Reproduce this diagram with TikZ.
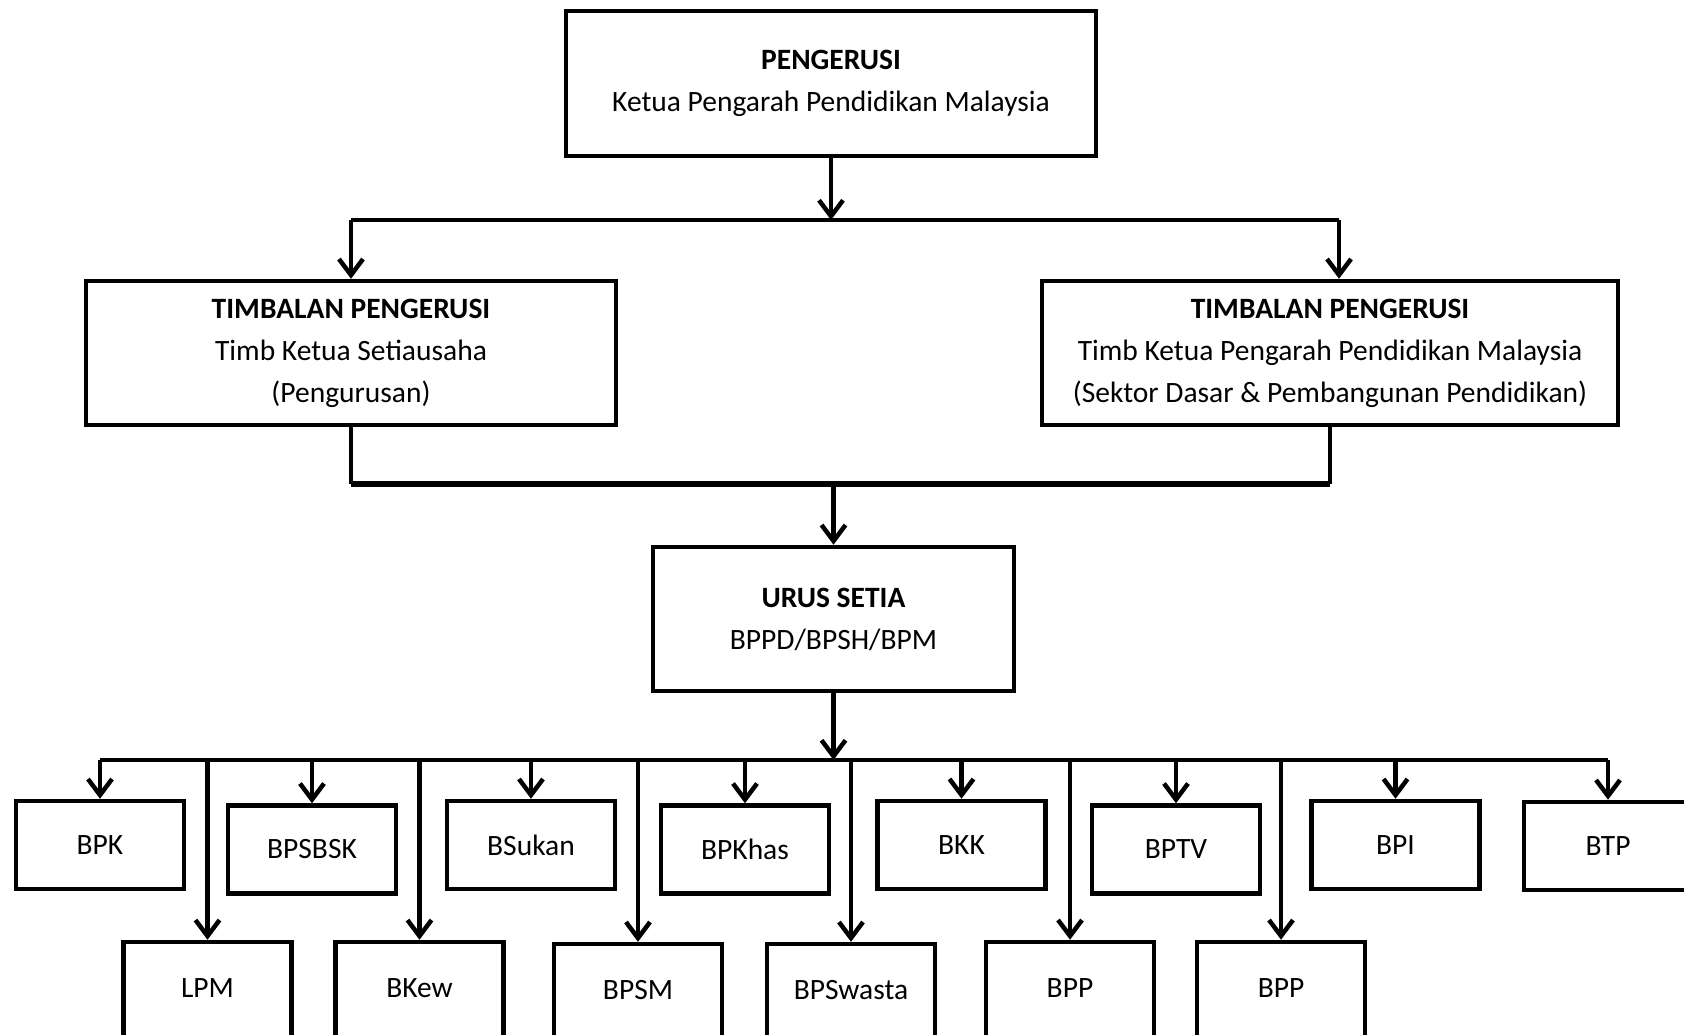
\documentclass[tikz,border=0pt]{standalone}
\usepackage{fontspec}
\setmainfont{Carlito}
\usetikzlibrary{arrows.meta}

\begin{document}
\begin{tikzpicture}[x=1pt,y=-1pt,>={Straight Barb[length=16pt,width=24pt]}]
\tikzstyle{box}=[draw, line width=4.5pt, align=center, inner sep=0pt, font=\fontsize{29.5}{42}\selectfont]
\tikzstyle{unit}=[box, minimum width=168pt, minimum height=88pt]
\tikzstyle{unit2}=[box, minimum width=168pt, minimum height=110pt, text depth=18pt]
\tikzstyle{link}=[line width=4.5pt]
\tikzstyle{arr}=[link, ->]
\useasboundingbox (0,0) rectangle (1684,1034);
\clip (0,0) rectangle (1684,1034);
% top level
\node[box, minimum width=530pt, minimum height=145pt] (peng) at (831,83.5) {\textbf{PENGERUSI}\\Ketua Pengarah Pendidikan Malaysia};
\node[box, minimum width=530pt, minimum height=144pt] (tp1) at (351,353) {\textbf{TIMBALAN PENGERUSI}\\Timb Ketua Setiausaha\\(Pengurusan)};
\node[box, minimum width=576pt, minimum height=144pt] (tp2) at (1330,353) {\textbf{TIMBALAN PENGERUSI}\\Timb Ketua Pengarah Pendidikan Malaysia\\(Sektor Dasar \& Pembangunan Pendidikan)};
\node[box, minimum width=361pt, minimum height=144pt] (urus) at (833.5,619) {\textbf{URUS SETIA}\\BPPD/BPSH/BPM};
% units, first row
\node[unit] (bpk) at (100,845) {BPK};
\node[unit] (bpsbsk) at (312,849.5) {BPSBSK};
\node[unit] (bsukan) at (531,845) {BSukan};
\node[unit] (bpkhas) at (745,849.5) {BPKhas};
\node[unit] (bkk) at (961.5,845) {BKK};
\node[unit] (bptv) at (1176,849.5) {BPTV};
\node[unit] (bpi) at (1395.5,845) {BPI};
\node[unit] (btp) at (1608,846) {BTP};
% units, second row
\node[unit2] (lpm) at (207.5,997) {LPM};
\node[unit2] (bkew) at (419.5,997) {BKew};
\node[unit2] (bpsm) at (638,999) {BPSM};
\node[unit2] (bpswasta) at (851,999) {BPSwasta};
\node[unit2] (bppa) at (1070,997) {BPP};
\node[unit2] (bppb) at (1281,997) {BPP};
% connectors
\coordinate (bus1) at (831,220);
\coordinate (bus2) at (833.5,484);
\coordinate (bus3) at (833.5,760);
\draw[arr] (peng.south) -- (bus1);
\draw[link] (tp1.north |- bus1) -- ([xshift=9pt]tp2.north |- bus1);
\draw[arr] (tp1.north |- bus1) -- (tp1.north);
\draw[arr] ([xshift=9pt]tp2.north |- bus1) -- ([xshift=9pt]tp2.north);
\draw[link, line width=3.5pt] (tp1.south) -- (tp1.south |- bus2);
\draw[link, line width=3.5pt] (tp2.south) -- (tp2.south |- bus2);
\draw[link, line width=5.5pt] (tp1.south |- bus2) -- (tp2.south |- bus2);
\draw[arr] (bus2) -- (urus.north);
\draw[arr] (urus.south) -- (bus3);
\draw[link] (bpk.north |- bus3) -- (btp.north |- bus3);
\foreach \u in {bpk,bpsbsk,bsukan,bpkhas,bkk,bptv,bpi,btp,lpm,bkew,bpsm,bpswasta,bppa,bppb}
  \draw[arr] (\u.north |- bus3) -- (\u.north);
\end{tikzpicture}
\end{document}
